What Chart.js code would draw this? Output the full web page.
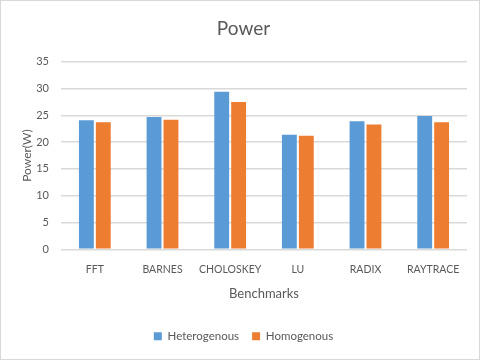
<!DOCTYPE html>
<html><head><meta charset="utf-8">
<script src="https://cdn.jsdelivr.net/npm/chart.js@4"></script>
<style>
html,body{margin:0;padding:0;background:#fff;}
#wrap{position:absolute;left:0;top:0;width:478px;height:358px;border:1px solid #d9d9d9;}
</style></head>
<body><div id="wrap"><canvas id="c" width="478" height="358"></canvas></div>
<script>
const categories = ["FFT","BARNES","CHOLOSKEY","LU","RADIX","RAYTRACE"];
const heterogenous = [24.1, 24.7, 29.4, 21.4, 23.9, 24.9];
const homogenous = [23.7, 24.2, 27.5, 21.2, 23.3, 23.7];
const yTicks = [0,5,10,15,20,25,30,35];
const FONT = "'Lato', 'Open Sans', sans-serif";
const GREY = "#595959";
new Chart(document.getElementById('c'), {
  type: 'bar',
  data: {
    labels: categories,
    datasets: [
      {label: 'Heterogenous', data: heterogenous, backgroundColor: '#5B9BD5', categoryPercentage: 0.5, barPercentage: 0.88},
      {label: 'Homogenous', data: homogenous, backgroundColor: '#ED7D31', categoryPercentage: 0.5, barPercentage: 0.88}
    ]
  },
  options: {
    responsive: false,
    animation: false,
    layout: {padding: {left: 19, right: 12, top: 8, bottom: 7}},
    plugins: {
      title: {display: true, text: 'Power', color: GREY, font: {family: FONT, size: 19, weight: 'normal'}, padding: {top: 8, bottom: 22}},
      legend: {position: 'bottom', labels: {color: GREY, font: {family: FONT, size: 11.5}, boxWidth: 8, boxHeight: 8, padding: 13}},
      tooltip: {enabled: false}
    },
    scales: {
      x: {
        grid: {display: false},
        border: {display: false},
        ticks: {color: GREY, font: {family: FONT, size: 10.5}, padding: 6, maxRotation: 0, minRotation: 0, autoSkip: false},
        title: {display: true, text: 'Benchmarks', color: GREY, font: {family: FONT, size: 13}, padding: {top: 4, bottom: 16}}
      },
      y: {
        min: 0, max: 35,
        afterBuildTicks: s => { s.ticks = yTicks.map(v => ({value: v})); },
        afterFit: s => { s.width = 41; },
        grid: {color: '#d9d9d9', lineWidth: 1.5, drawTicks: false},
        border: {display: false},
        ticks: {color: GREY, font: {family: FONT, size: 11}, padding: 12},
        title: {display: true, text: 'Power(W)', color: GREY, font: {family: FONT, size: 12}, padding: {top: 0, bottom: 0}}
      }
    }
  }
});
</script></body></html>
